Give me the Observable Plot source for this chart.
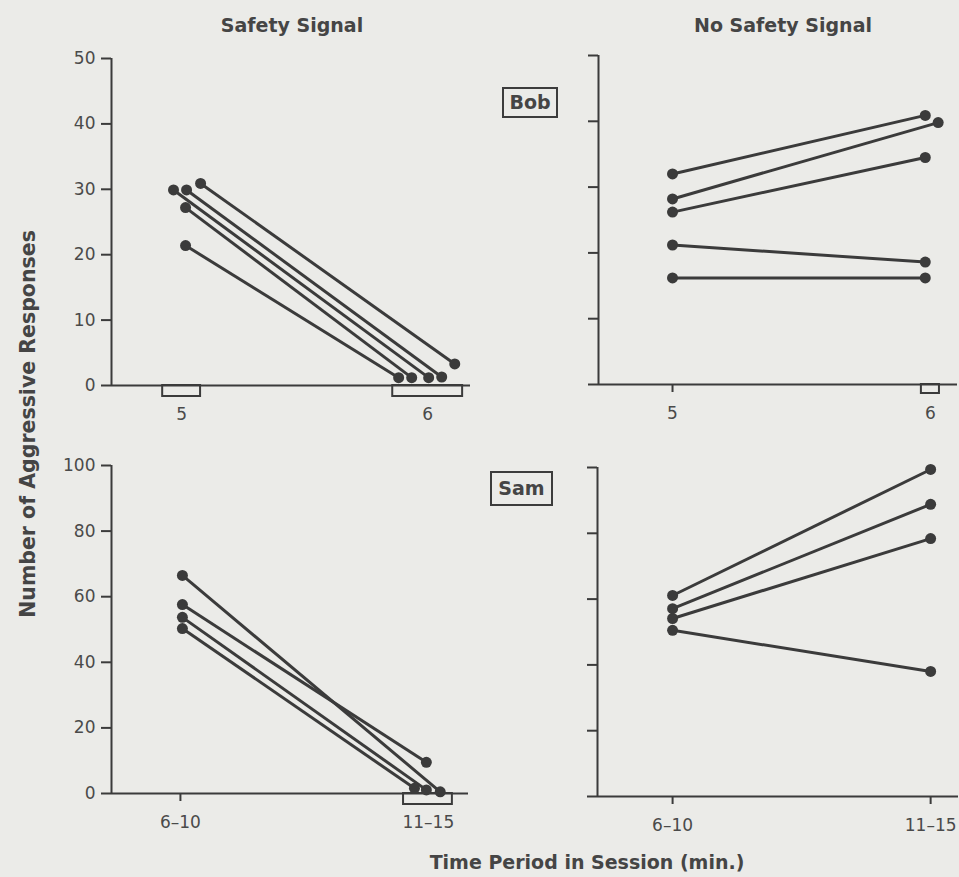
<!DOCTYPE html>
<html>
<head>
<meta charset="utf-8">
<script src="https://cdn.jsdelivr.net/npm/d3@7"></script>
<script src="https://cdn.jsdelivr.net/npm/@observablehq/plot@0.6"></script>
<style>
  html, body { margin: 0; padding: 0; background: #ebebe8; }
  #chart {
    position: relative; width: 959px; height: 877px; overflow: hidden;
    font-family: "DejaVu Sans", "Liberation Sans", Arial, sans-serif; color: #454545;
  }
  .title { position: absolute; font-weight: bold; white-space: nowrap; transform: translate(-50%, -50%); }
  .panel { position: absolute; }
  .name {
    position: absolute; font-weight: bold; font-size: 19px; line-height: 1;
    border: 2px solid #3c3c3c; display: flex; align-items: center; justify-content: center;
    box-sizing: border-box;
  }
</style>
</head>
<body>
<div id="chart">
  <div class="title" style="left:292px; top:25px; font-size:19px;">Safety Signal</div>
  <div class="title" style="left:783px; top:25px; font-size:19px;">No Safety Signal</div>
  <div class="title" style="left:28px; top:424px; font-size:20.5px; transform: translate(-50%, -50%) rotate(-90deg);">Number of Aggressive Responses</div>
  <div class="title" style="left:587px; top:862px; font-size:19px;">Time Period in Session (min.)</div>
  <div class="name" style="left:502px; top:87px; width:56px; height:31px;">Bob</div>
  <div class="name" style="left:490px; top:471px; width:63px; height:35px;">Sam</div>
</div>
<script>
// Time periods compared for each child
const periodsBob = ["5", "6"];
const periodsSam = ["6–10", "11–15"];

// Aggressive responses per session: first period (A) and second period (B)
const bobSignalA   = [30.9, 29.9, 29.9, 27.2, 21.4];
const bobSignalB   = [3.3, 1.3, 1.2, 1.2, 1.2];
const bobNoSignalA = [32.0, 28.2, 26.2, 21.2, 16.2];
const bobNoSignalB = [40.9, 39.8, 34.5, 18.6, 16.2];

const samSignalA   = [66.5, 57.6, 53.7, 50.3];
const samSignalB   = [0.5, 9.5, 1.1, 1.6];
const samNoSignalA = [61.1, 57.1, 54.1, 50.5];
const samNoSignalB = [99.4, 88.8, 78.4, 38.0];

// Axis ranges
const bobMax = 50, bobStep = 10;
const samMax = 100, samStep = 20;

const INK = "#3b3b3b";
const TEXT = "#4a4a4a";
const FONT = "DejaVu Sans, Liberation Sans, Arial, sans-serif";

function panel(cfg) {
  const {A, B, nudgeA, nudgeB, periods, yMax, yStep, showLabels, xDomain,
         ticksAt, signals, boxH, width, height, mt, mr, mb, ml} = cfg;
  const sessions = A.map((a, i) => ({a, b: B[i], xa: 0 + nudgeA[i], xb: 1 + nudgeB[i]}));
  const points = sessions.flatMap(s => [{x: s.xa, y: s.a}, {x: s.xb, y: s.b}]);
  const unit = (height - mt - mb) / yMax; // pixels per response
  return Plot.plot({
    width, height,
    marginTop: mt, marginRight: mr, marginBottom: mb, marginLeft: ml,
    style: {background: "transparent", fontFamily: FONT, fontSize: "17px", color: INK, overflow: "visible"},
    x: {domain: xDomain, axis: null},
    y: {domain: [0, yMax]},
    marks: [
      Plot.ruleY([0], {stroke: INK, strokeWidth: 2}),
      Plot.ruleX([xDomain[0]], {y1: 0, y2: yMax, stroke: INK, strokeWidth: 2}),
      Plot.axisY(d3.range(0, yMax + 1, yStep), {
        tickSize: 10, tickPadding: 6, stroke: INK, strokeWidth: 2, fill: TEXT,
        fontSize: 17, label: null, tickFormat: showLabels ? (d => String(d)) : (() => "")
      }),
      // boxes under the axis mark the periods with the signal
      Plot.rect(signals, {x1: d => d.at + d.from, x2: d => d.at + d.to, y1: 0, y2: -boxH / unit,
                          fill: "none", stroke: INK, strokeWidth: 2}),
      Plot.ruleX(ticksAt, {y1: 0, y2: -8 / unit, stroke: INK, strokeWidth: 2}),
      Plot.text(periods, {x: (d, i) => i, y: 0, dy: 29, text: d => d, fill: TEXT, fontSize: 17}),
      Plot.link(sessions, {x1: "xa", y1: "a", x2: "xb", y2: "b", stroke: INK, strokeWidth: 3}),
      Plot.dot(points, {x: "x", y: "y", r: 5.5, fill: INK, stroke: "none"})
    ]
  });
}

const panels = [
  { // Bob, safety signal
    left: 0, top: 40,
    A: bobSignalA, B: bobSignalB,
    nudgeA: [0.077, 0.02, -0.033, 0.016, 0.016], nudgeB: [0.11, 0.057, 0.004, -0.065, -0.118],
    periods: periodsBob, yMax: bobMax, yStep: bobStep, showLabels: true,
    xDomain: [-0.285, 1.174], ticksAt: [],
    signals: [{at: 0, from: -0.077, to: 0.077}, {at: 1, from: -0.142, to: 0.142}], boxH: 11,
    width: 480, height: 400, mt: 18, mr: 10, mb: 55, ml: 111
  },
  { // Bob, no safety signal
    left: 480, top: 40,
    A: bobNoSignalA, B: bobNoSignalB,
    nudgeA: [0, 0, 0, 0, 0], nudgeB: [-0.02, 0.03, -0.02, -0.02, -0.02],
    periods: periodsBob, yMax: bobMax, yStep: bobStep, showLabels: false,
    xDomain: [-0.287, 1.105], ticksAt: [0],
    signals: [{at: 1, from: -0.035, to: 0.035}], boxH: 9,
    width: 479, height: 400, mt: 15, mr: 2, mb: 56, ml: 118
  },
  { // Sam, safety signal
    left: 0, top: 440,
    A: samSignalA, B: samSignalB,
    nudgeA: [0.008, 0.008, 0.008, 0.008], nudgeB: [0.048, -0.008, -0.008, -0.056],
    periods: periodsSam, yMax: samMax, yStep: samStep, showLabels: true,
    xDomain: [-0.278, 1.162], ticksAt: [0],
    signals: [{at: 1, from: -0.1, to: 0.097}], boxH: 11,
    width: 480, height: 437, mt: 25, mr: 12, mb: 84, ml: 111
  },
  { // Sam, no safety signal
    left: 480, top: 440,
    A: samNoSignalA, B: samNoSignalB,
    nudgeA: [0, 0, 0, 0], nudgeB: [0, 0, 0, 0],
    periods: periodsSam, yMax: samMax, yStep: samStep, showLabels: false,
    xDomain: [-0.291, 1.108], ticksAt: [0, 1], signals: [], boxH: 9,
    width: 479, height: 437, mt: 27, mr: 1, mb: 81, ml: 117
  }
];

const chart = document.getElementById("chart");
for (const p of panels) {
  const svg = panel(p);
  const wrap = document.createElement("div");
  wrap.className = "panel";
  wrap.style.left = p.left + "px";
  wrap.style.top = p.top + "px";
  wrap.appendChild(svg);
  chart.insertBefore(wrap, chart.firstChild);
}
</script>
</body>
</html>
